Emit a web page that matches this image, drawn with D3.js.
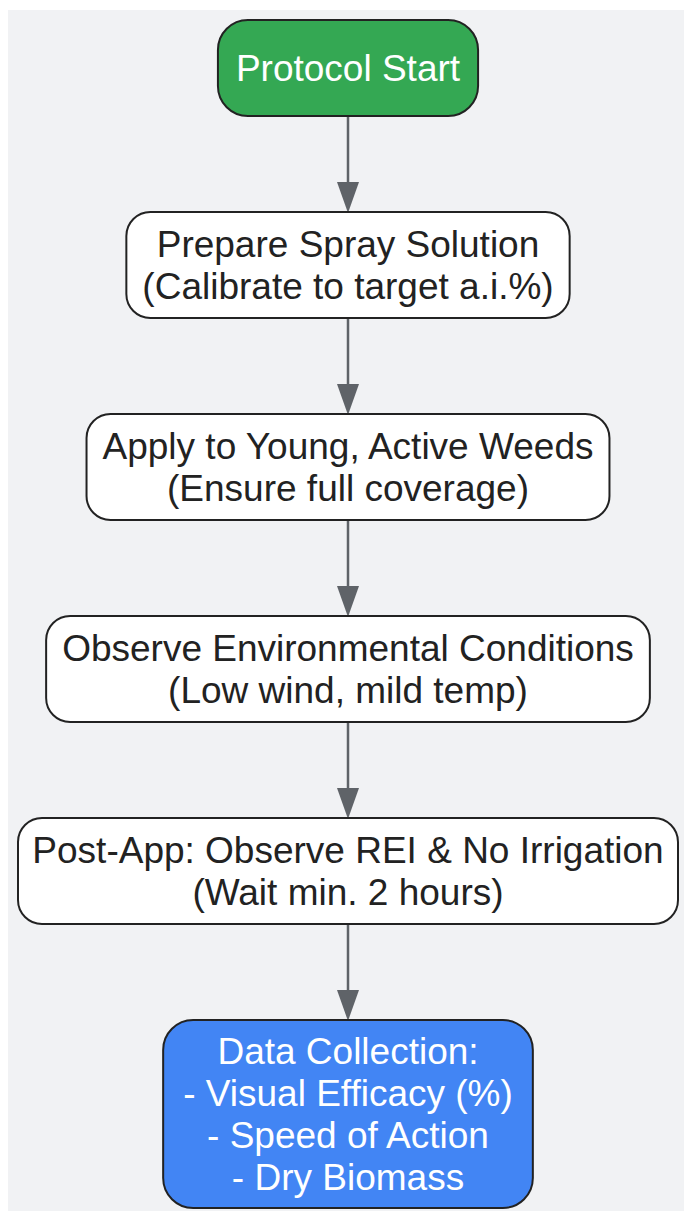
<!DOCTYPE html>
<html>
<head>
<meta charset="utf-8">
<script src="https://cdn.jsdelivr.net/npm/d3@7"></script>
<style>
  body { margin: 0; background: #fff; }
  svg { display: block; }
</style>
</head>
<body>
<svg id="chart"></svg>
<script>
// flowchart steps, top to bottom
var stepIds = ["start", "prep", "apply", "env", "post", "data"];
var stepLabels = [
    ["Protocol Start"],
    ["Prepare Spray Solution", "(Calibrate to target a.i.%)"],
    ["Apply to Young, Active Weeds", "(Ensure full coverage)"],
    ["Observe Environmental Conditions", "(Low wind, mild temp)"],
    ["Post-App: Observe REI & No Irrigation", "(Wait min. 2 hours)"],
    ["Data Collection:", "- Visual Efficacy (%)", "- Speed of Action", "- Dry Biomass"]
];
var stepKinds = ["start", "step", "step", "step", "step", "end"];
var links = [["start", "prep"], ["prep", "apply"], ["apply", "env"], ["env", "post"], ["post", "data"]];

var W = 684, H = 1211;
var fontSize = 37, lineH = 42, gap = 96, cx = 348;

var fills = { start: "#34a853", step: "#ffffff", end: "#4285f4" };
var textCol = { start: "#ffffff", step: "#222222", end: "#ffffff" };
var padXs = { start: 18, step: 16, end: 20 };

var svg = d3.select("#chart").attr("width", W).attr("height", H);

svg.append("rect")
    .attr("x", 8).attr("y", 10)
    .attr("width", W - 8).attr("height", H - 10)
    .attr("fill", "#f1f2f4");

// measure text to size the boxes
var meas = svg.append("text")
    .attr("font-family", "'Liberation Sans', Arial, sans-serif")
    .attr("font-size", fontSize);

var nodes = stepIds.map(function(id, i) {
    var wmax = d3.max(stepLabels[i], function(t) {
        meas.text(t);
        return meas.node().getComputedTextLength();
    });
    var kind = stepKinds[i];
    var padY = kind == "start" ? 54 : (kind == "end" ? 20 : 22);
    return {
        id: id, lines: stepLabels[i], kind: kind,
        w: Math.min(wmax + 2 * padXs[kind], 660),
        h: stepLabels[i].length * lineH + padY
    };
});
meas.remove();

var yPos = 20;
nodes.forEach(function(n) {
    n.y = yPos;
    yPos += n.h + gap;
});
var byId = {};
nodes.forEach(function(n) { byId[n.id] = n; });

// edges
var edges = svg.append("g");
links.forEach(function(l) {
    var a = byId[l[0]], b = byId[l[1]];
    var y0 = a.y + a.h, y1 = b.y;
    edges.append("line")
        .attr("x1", cx).attr("x2", cx)
        .attr("y1", y0).attr("y2", y1 - 28)
        .attr("stroke", "#5f6368")
        .attr("stroke-width", 2.5);
    edges.append("path")
        .attr("d", "M" + (cx - 11) + "," + (y1 - 30) + "L" + (cx + 11) + "," + (y1 - 30) + "L" + cx + "," + (y1 + 1) + "Z")
        .attr("fill", "#5f6368");
});

// boxes
var g = svg.selectAll("g.node")
    .data(nodes)
    .enter()
    .append("g")
    .attr("class", "node");

g.append("rect")
    .attr("x", function(d) { return cx - d.w / 2; })
    .attr("y", function(d) { return d.y; })
    .attr("width", function(d) { return d.w; })
    .attr("height", function(d) { return d.h; })
    .attr("rx", function(d) { return d.kind == "step" ? 24 : 30; })
    .attr("fill", function(d) { return fills[d.kind]; })
    .attr("stroke", "#222")
    .attr("stroke-width", 2);

g.each(function(d) {
    var t = d3.select(this).append("text")
        .attr("font-family", "'Liberation Sans', Arial, sans-serif")
        .attr("font-size", fontSize)
        .attr("fill", textCol[d.kind])
        .attr("text-anchor", "middle");
    var mid = d.y + d.h / 2;
    var n = d.lines.length;
    d.lines.forEach(function(line, k) {
        t.append("tspan")
            .attr("x", cx)
            .attr("y", mid + (k - (n - 1) / 2) * lineH)
            .attr("dy", "0.35em")
            .text(line);
    });
});
</script>
</body>
</html>
